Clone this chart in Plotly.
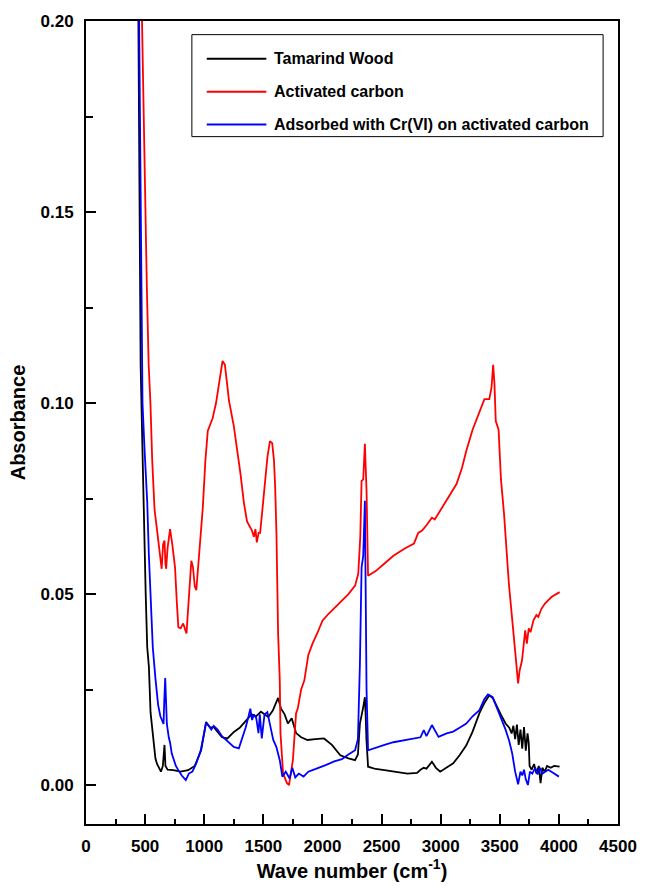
import plotly.graph_objects as go

# ---- Data ----
wood_x = [440, 462, 476, 490, 505, 518, 532, 546, 559, 587, 601, 634, 650, 664, 672, 690, 739, 800, 864, 920,
          974, 1016, 1050, 1080, 1110, 1150, 1196, 1251, 1300, 1362, 1400, 1440, 1480, 1542, 1580, 1625, 1650,
          1680, 1708, 1740, 1777, 1820, 1874, 1940, 2013, 2080, 2151, 2220, 2276, 2300, 2317, 2345, 2359, 2366,
          2372, 2386, 2450, 2525, 2620, 2719, 2800, 2829, 2857, 2880, 2926, 2960, 2996, 3050, 3106, 3160, 3217,
          3270, 3328, 3370, 3411, 3440, 3480, 3520, 3549, 3580, 3600, 3615, 3630, 3645, 3660, 3675, 3690, 3705,
          3720, 3735, 3745, 3752, 3770, 3790, 3810, 3830, 3845, 3860, 3880, 3900, 3930, 3960, 4006]
wood_y = [0.215, 0.11, 0.09, 0.066, 0.05, 0.036, 0.031, 0.019, 0.015, 0.007, 0.0055, 0.0035, 0.005, 0.0105,
          0.005, 0.004, 0.0039, 0.0035, 0.0039, 0.005, 0.0091, 0.0165, 0.015, 0.0152, 0.014, 0.0125, 0.0122,
          0.0139, 0.015, 0.017, 0.0185, 0.018, 0.0192, 0.0178, 0.0195, 0.0228, 0.02, 0.0185, 0.0161, 0.0175,
          0.0136, 0.0125, 0.0118, 0.012, 0.0122, 0.0105, 0.0078, 0.007, 0.0065, 0.008, 0.0161, 0.0204, 0.023,
          0.018, 0.012, 0.0048, 0.0042, 0.0039, 0.0035, 0.003, 0.0032, 0.004, 0.0045, 0.0043, 0.0061, 0.0045,
          0.0035, 0.0045, 0.0057, 0.0078, 0.0104, 0.014, 0.0188, 0.0215, 0.0235, 0.0228, 0.0205, 0.0178, 0.0161,
          0.015, 0.0135, 0.0155, 0.012, 0.0158, 0.0105, 0.0145, 0.0095, 0.0152, 0.009, 0.0135, 0.011, 0.005,
          0.004, 0.0055, 0.003, 0.005, 0.0005, 0.0045, 0.0035, 0.005, 0.0045, 0.005, 0.0048]

carbon_x = [465, 490, 515, 530, 545, 560, 580, 600, 615, 628, 640, 652, 664, 672, 678, 690, 711, 730, 753, 768,
            781, 800, 822, 850, 870, 891, 905, 920, 933, 960, 988, 1010, 1030, 1071, 1100, 1130, 1155, 1175,
            1210, 1250, 1280, 1307, 1335, 1362, 1404, 1420, 1433, 1445, 1460, 1473, 1495, 1514, 1535, 1556, 1575,
            1590, 1600, 1611, 1625, 1639, 1645, 1667, 1700, 1717, 1750, 1777, 1791, 1820, 1847, 1880, 1916, 1960,
            2000, 2054, 2110, 2165, 2220, 2276, 2303, 2320, 2331, 2345, 2352, 2359, 2366, 2373, 2386, 2450, 2525,
            2600, 2700, 2774, 2810, 2843, 2880, 2926, 2950, 3000, 3051, 3100, 3134, 3180, 3217, 3270, 3328, 3370,
            3411, 3430, 3444, 3455, 3466, 3490, 3510, 3536, 3577, 3605, 3632, 3655, 3668, 3688, 3702, 3715, 3729,
            3745, 3760, 3785, 3810, 3826, 3850, 3882, 3937, 4006]
carbon_y = [0.215, 0.17, 0.13, 0.11, 0.1, 0.085, 0.072, 0.067, 0.063, 0.059, 0.0566, 0.063, 0.064, 0.058, 0.0566,
            0.062, 0.067, 0.063, 0.057, 0.048, 0.0413, 0.041, 0.0423, 0.0397, 0.05, 0.0587, 0.057, 0.052, 0.051,
            0.062, 0.0726, 0.085, 0.0927, 0.096, 0.1, 0.106, 0.111, 0.11, 0.1005, 0.094, 0.088, 0.0814, 0.074,
            0.069, 0.0666, 0.065, 0.067, 0.0635, 0.066, 0.066, 0.073, 0.0788, 0.086, 0.09, 0.0895, 0.085, 0.078,
            0.0658, 0.0397, 0.0274, 0.0136, 0.003, 0.0005, 0.0, 0.0065, 0.0188, 0.02, 0.025, 0.0274, 0.034, 0.037,
            0.04, 0.043, 0.0449, 0.0466, 0.0483, 0.05, 0.0522, 0.0553, 0.065, 0.0796, 0.08, 0.0875, 0.0893, 0.083,
            0.077, 0.0548, 0.056, 0.058, 0.06, 0.062, 0.0632, 0.066, 0.0666, 0.068, 0.07, 0.0695, 0.072, 0.0744,
            0.077, 0.0788, 0.083, 0.0875, 0.093, 0.0979, 0.101, 0.101, 0.104, 0.11, 0.105, 0.0953, 0.093, 0.08,
            0.071, 0.0527, 0.0423, 0.0344, 0.0266, 0.03, 0.0326, 0.0361, 0.0405, 0.037, 0.041, 0.04, 0.0431,
            0.0445, 0.044, 0.046, 0.0475, 0.0492, 0.0505]

crvi_x = [445, 478, 495, 518, 532, 546, 565, 587, 610, 629, 648, 656, 662, 670, 677, 684, 700, 712, 725, 760, 781,
          810, 844, 870, 900, 933, 970, 1000, 1016, 1040, 1060, 1080, 1113, 1150, 1210, 1250, 1293, 1320, 1350,
          1375, 1390, 1405, 1420, 1440, 1459, 1470, 1487, 1510, 1534, 1555, 1584, 1610, 1639, 1661, 1690, 1722,
          1745, 1770, 1800, 1840, 1880, 1916, 1970, 2027, 2100, 2165, 2220, 2276, 2300, 2317, 2331, 2345, 2359,
          2366, 2373, 2386, 2450, 2525, 2600, 2700, 2790, 2829, 2857, 2880, 2926, 2982, 3050, 3106, 3160, 3217,
          3270, 3328, 3370, 3400, 3440, 3494, 3549, 3580, 3605, 3630, 3655, 3675, 3690, 3705, 3720, 3738, 3755,
          3775, 3800, 3820, 3840, 3860, 3880, 3910, 3950, 4000]
crvi_y = [0.215, 0.1, 0.088, 0.074, 0.06, 0.048, 0.036, 0.028, 0.021, 0.018, 0.0165, 0.016, 0.022, 0.028, 0.022,
          0.016, 0.0125, 0.011, 0.0083, 0.005, 0.0039, 0.0025, 0.0013, 0.003, 0.0035, 0.0057, 0.009, 0.014,
          0.0163, 0.0155, 0.0145, 0.0155, 0.0145, 0.0128, 0.011, 0.01, 0.0096, 0.012, 0.015, 0.018, 0.02, 0.017,
          0.0185, 0.0175, 0.0136, 0.0185, 0.0122, 0.0185, 0.0191, 0.016, 0.0118, 0.01, 0.0065, 0.0022, 0.0035,
          0.0017, 0.0045, 0.002, 0.003, 0.0022, 0.0035, 0.0039, 0.0045, 0.0052, 0.0062, 0.0068, 0.008, 0.0091,
          0.012, 0.0318, 0.057, 0.06, 0.0744, 0.05, 0.025, 0.0091, 0.0098, 0.0105, 0.0112, 0.0118, 0.0122, 0.0125,
          0.0144, 0.0128, 0.0157, 0.0126, 0.0135, 0.014, 0.015, 0.0161, 0.018, 0.0196, 0.0225, 0.0237, 0.023,
          0.0188, 0.0145, 0.0115, 0.0083, 0.0035, 0.0002, 0.0035, 0.0025, 0.004, 0.0015, 0.0, 0.0035, 0.003,
          0.0045, 0.0028, 0.0045, 0.003, 0.0035, 0.004, 0.0032, 0.0022]

series_names = ["Tamarind Wood", "Activated carbon", "Adsorbed with Cr(VI) on activated carbon"]
series_colors = ["#000000", "#ff0000", "#0000ff"]

x_ticks = [0, 500, 1000, 1500, 2000, 2500, 3000, 3500, 4000, 4500]
y_ticks = [0.00, 0.05, 0.10, 0.15, 0.20]

FONT = "Liberation Sans, Arial, sans-serif"

fig = go.Figure()
for xs, ys, name, col in zip([wood_x, carbon_x, crvi_x], [wood_y, carbon_y, crvi_y], series_names, series_colors):
    fig.add_trace(go.Scatter(x=xs, y=ys, mode="lines", name=name,
                             line=dict(color=col, width=1.8), showlegend=False))

# Manual legend (box, sample lines, labels) in paper coordinates
box = dict(x0=0.199, x1=0.972, y0=0.856, y1=0.983)
fig.add_shape(type="rect", xref="paper", yref="paper", **box,
              line=dict(color="black", width=1), fillcolor="white", layer="above")
legend_rows = [0.953, 0.912, 0.871]
for yy, name, col in zip(legend_rows, series_names, series_colors):
    fig.add_shape(type="line", xref="paper", yref="paper", x0=0.227, x1=0.339, y0=yy, y1=yy,
                  line=dict(color=col, width=2), layer="above")
    fig.add_annotation(xref="paper", yref="paper", x=0.349, y=yy, text=name, showarrow=False,
                       xanchor="left", yanchor="middle",
                       font=dict(family=FONT, size=16, color="black", weight="bold"))

fig.update_layout(
    width=649, height=888,
    margin=dict(l=86, r=21, t=19, b=64, pad=0),
    paper_bgcolor="white", plot_bgcolor="white",
    font=dict(family=FONT, color="black"),
    showlegend=False,
)
fig.update_xaxes(
    range=[0, 4500], tickvals=x_ticks, ticktext=[str(v) for v in x_ticks],
    ticks="inside", ticklen=10, tickwidth=2, tickcolor="black",
    minor=dict(dtick=250, tick0=0, ticks="inside", ticklen=5, tickwidth=2, tickcolor="black", showgrid=False),
    showline=True, linewidth=2, linecolor="black", mirror=True,
    showgrid=False, zeroline=False,
    tickfont=dict(family=FONT, size=17, color="black", weight="bold"),
    ticklabelstandoff=6,
    title=dict(text="Wave number (cm<sup>-1</sup>)", standoff=0,
               font=dict(family=FONT, size=20, color="black", weight="bold")),
)
fig.update_yaxes(
    range=[-0.0102, 0.2], tickvals=y_ticks, ticktext=["%.2f" % v for v in y_ticks],
    ticks="inside", ticklen=10, tickwidth=2, tickcolor="black",
    minor=dict(dtick=0.025, tick0=0, ticks="inside", ticklen=7, tickwidth=2, tickcolor="black", showgrid=False),
    showline=True, linewidth=2, linecolor="black", mirror=True,
    showgrid=False, zeroline=False,
    tickfont=dict(family=FONT, size=17, color="black", weight="bold"),
    ticklabelstandoff=7,
    title=dict(text="Absorbance", standoff=10,
               font=dict(family=FONT, size=20, color="black", weight="bold")),
)

fig.write_html("out.html")
